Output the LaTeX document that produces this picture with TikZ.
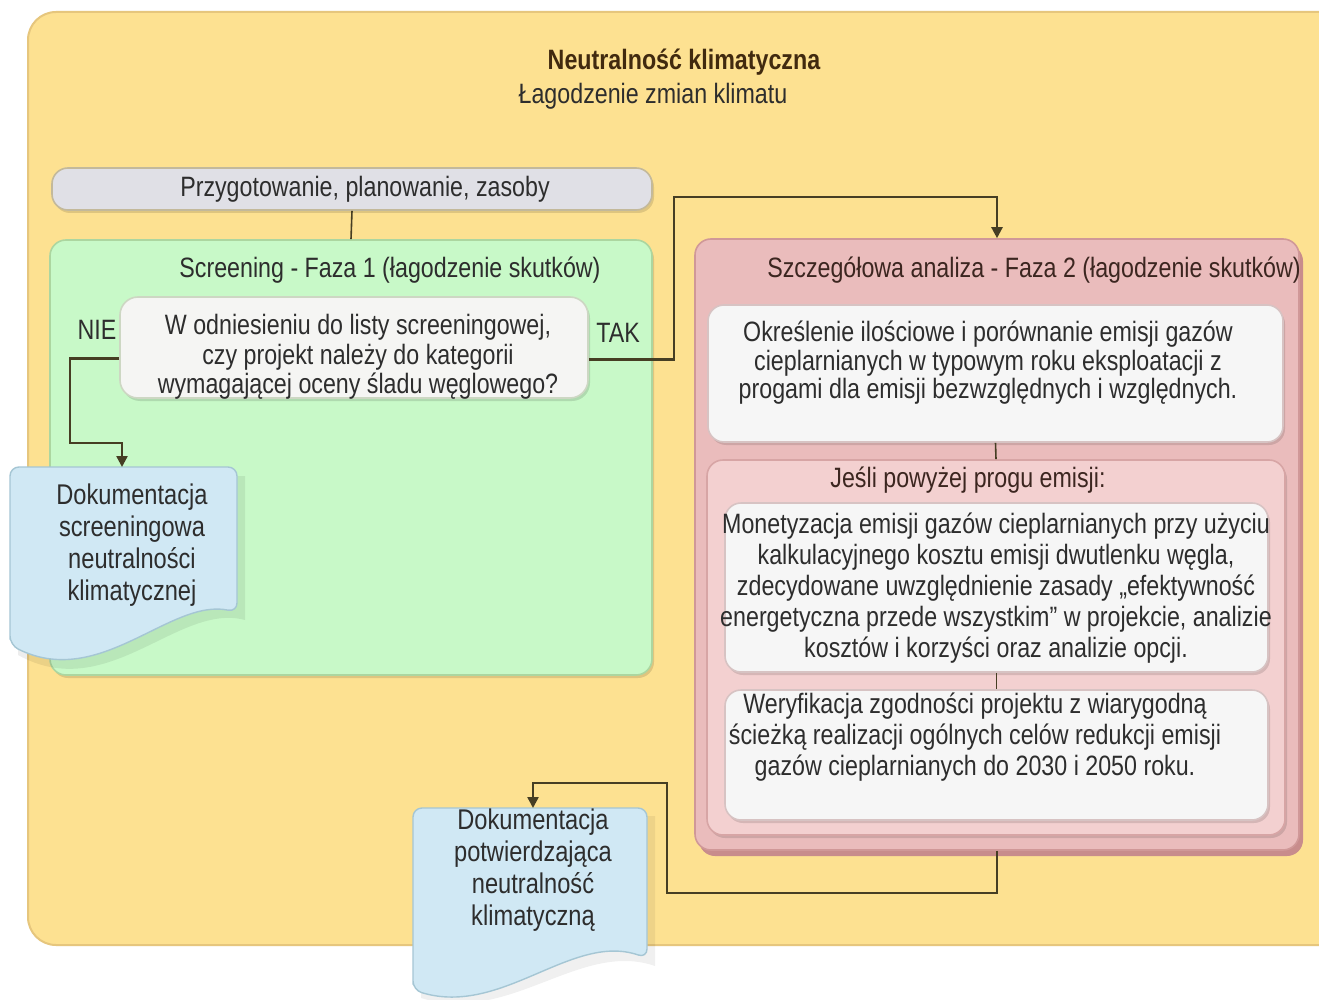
\documentclass[tikz,border=0pt]{standalone}
\usepackage{fontspec}
\setmainfont{Liberation Sans}[FakeStretch=0.83]
\usetikzlibrary{arrows.meta,shadows}
\definecolor{yelfill}{RGB}{253,225,145}
\definecolor{yelbd}{RGB}{230,198,125}
\definecolor{grayfill}{RGB}{224,224,230}
\definecolor{graybd}{RGB}{195,185,155}
\definecolor{greenfill}{RGB}{200,249,200}
\definecolor{greenbd}{RGB}{172,214,160}
\definecolor{qfill}{RGB}{245,245,243}
\definecolor{qbd}{RGB}{205,215,195}
\definecolor{pinkfill}{RGB}{234,188,188}
\definecolor{pinkbd}{RGB}{208,152,152}
\definecolor{pinkshadow}{RGB}{200,140,140}
\definecolor{ipfill}{RGB}{243,208,208}
\definecolor{ipbd}{RGB}{215,165,165}
\definecolor{wfill}{RGB}{246,246,246}
\definecolor{wbd}{RGB}{215,195,195}
\definecolor{docfill}{RGB}{208,232,244}
\definecolor{docbd}{RGB}{165,198,212}
\definecolor{conncol}{RGB}{70,62,35}
\definecolor{textc}{RGB}{45,45,45}
\definecolor{titlec}{RGB}{65,42,15}
\definecolor{p2titlec}{RGB}{60,38,32}
\begin{document}
\begin{tikzpicture}[x=1pt,y=-1pt,
  font=\fontsize{28}{29.5}\selectfont, text=textc,
  box/.style={draw, line width=1.6pt, inner sep=0pt, rounded corners=16pt},
  lbl/.style={inner sep=0pt, align=center},
  conn/.style={draw=conncol, line width=2.4pt},
  arr/.style={conn, -{Triangle[length=11pt,width=11pt]}},
  docstyle/.style={fill=docfill, draw=docbd, line width=1.4pt},
  pshadow/.style={general shadow={shadow xshift=4pt, shadow yshift=-6pt, fill=pinkshadow}},
  sshadow/.style={general shadow={shadow xshift=2pt, shadow yshift=-3pt, fill=black, opacity=0.12}}
]
\useasboundingbox (0,0) rectangle (1319,1000);
\clip (0,0) rectangle (1319,1000);
\fill[white] (0,0) rectangle (1319,1000);

% outer container
\node[box, rounded corners=28pt, fill=yelfill, draw=yelbd, line width=2pt,
  minimum width=1320pt, minimum height=933pt] (outer) at (688,478.5) {};
\node[lbl, font=\fontsize{28}{29}\selectfont\bfseries, text=titlec] (title) at (684,62) {Neutralność klimatyczna};
\node[lbl] (subtitle) at (653,96) {Łagodzenie zmian klimatu};

% preparation
\node[box, fill=grayfill, draw=graybd, sshadow, minimum width=600pt, minimum height=42pt] (prep) at (352,189) {};
\node[lbl] (preptext) at (365,189) {Przygotowanie, planowanie, zasoby};

% phase 1
\node[box, fill=greenfill, draw=greenbd, sshadow, minimum width=602pt, minimum height=435pt] (green) at (351,457.5) {};
\node[lbl] (greentitle) at (390,270) {Screening - Faza 1 (łagodzenie skutków)};
\node[box, rounded corners=18pt, fill=qfill, draw=qbd, sshadow, minimum width=468pt, minimum height=101pt] (q) at (354,347.5) {};
\node[lbl] (qtext) at (358,357) {W odniesieniu do listy screeningowej,\\czy projekt należy do kategorii\\wymagającej oceny śladu węglowego?};
\node[lbl] (nie) at (97,330) {NIE};
\node[lbl] (tak) at (618,333) {TAK};

% phase 2
\node[box, fill=pinkfill, draw=pinkbd, pshadow, minimum width=604pt, minimum height=611pt] (p2) at (997,544.5) {};
\node[lbl, text=p2titlec] (p2title) at (1034,270) {Szczegółowa analiza - Faza 2 (łagodzenie skutków)};
\node[box, fill=wfill, draw=wbd, sshadow, minimum width=575pt, minimum height=137pt] (ok) at (995.5,373.5) {};
\node[lbl, font=\fontsize{28}{28.5}\selectfont] (oktext) at (988,363) {Określenie ilościowe i porównanie emisji gazów\\cieplarnianych w typowym roku eksploatacji z\\progami dla emisji bezwzględnych i względnych.};
\node[box, fill=ipfill, draw=ipbd, sshadow, minimum width=578pt, minimum height=375pt] (ip) at (996,647.5) {};
\node[lbl, text=p2titlec] (iptitle) at (968,480) {Jeśli powyżej progu emisji:};
\node[box, fill=wfill, draw=wbd, sshadow, minimum width=543pt, minimum height=169pt] (mon) at (996.5,587.5) {};
\node[lbl, font=\fontsize{28}{31}\selectfont] (montext) at (996,588) {Monetyzacja emisji gazów cieplarnianych przy użyciu\\kalkulacyjnego kosztu emisji dwutlenku węgla,\\zdecydowane uwzględnienie zasady „efektywność\\energetyczna przede wszystkim” w projekcie, analizie\\kosztów i korzyści oraz analizie opcji.};
\node[box, fill=wfill, draw=wbd, sshadow, minimum width=543pt, minimum height=130pt] (wer) at (996.5,755) {};
\node[lbl, font=\fontsize{28}{31}\selectfont] (wertext) at (975,737) {Weryfikacja zgodności projektu z wiarygodną\\ścieżką realizacji ogólnych celów redukcji emisji\\gazów cieplarnianych do 2030 i 2050 roku.};

% documents
\fill[black, opacity=0.07] (18,655) -- (18,476) -- (245,476) -- (245,620) .. controls (178,602) and (108,705) .. (18,655) -- cycle;
\filldraw[docstyle, rounded corners=9pt] (10,645) -- (10,467) -- (237,467) -- (237,612) .. controls (170,598) and (100,690) .. (10,645) -- cycle;
\node[lbl, font=\fontsize{28.5}{32}\selectfont] (doc1) at (132,545) {Dokumentacja\\screeningowa\\neutralności\\klimatycznej};
\coordinate (doc1top) at (122,467);

\fill[black, opacity=0.06] (421,998) -- (421,816) -- (655,816) -- (655,966) .. controls (580,940) and (510,1025) .. (421,998) -- cycle;
\filldraw[docstyle, rounded corners=9pt] (413,990) -- (413,808) -- (647,808) -- (647,958) .. controls (572,932) and (502,1017) .. (413,990) -- cycle;
\node[lbl, font=\fontsize{28.5}{32}\selectfont] (doc2) at (533,870) {Dokumentacja\\potwierdzająca\\neutralność\\klimatyczną};
\coordinate (doc2top) at (533,808);

% connectors
\coordinate (nie1) at (70,443);
\coordinate (tak1) at (674,197);
\coordinate (b1) at (667,893);
\coordinate (b2) at (533,783);
\draw[conn, line width=1.6pt] (prep.south) -- (green.north);
\draw[conn, line width=1.6pt] (ok.south) -- (ip.north);
\draw[conn, line width=1.6pt] (mon.south) -- (wer.north);
\draw[arr] ([yshift=-11pt]q.west) -| (nie1) -| (doc1top);
\draw[arr] ([yshift=-12pt]q.east) -| (tak1) -| (p2.north);
\draw[arr] (p2.south) |- (b1) |- (b2) -- (doc2top);
\end{tikzpicture}
\end{document}
